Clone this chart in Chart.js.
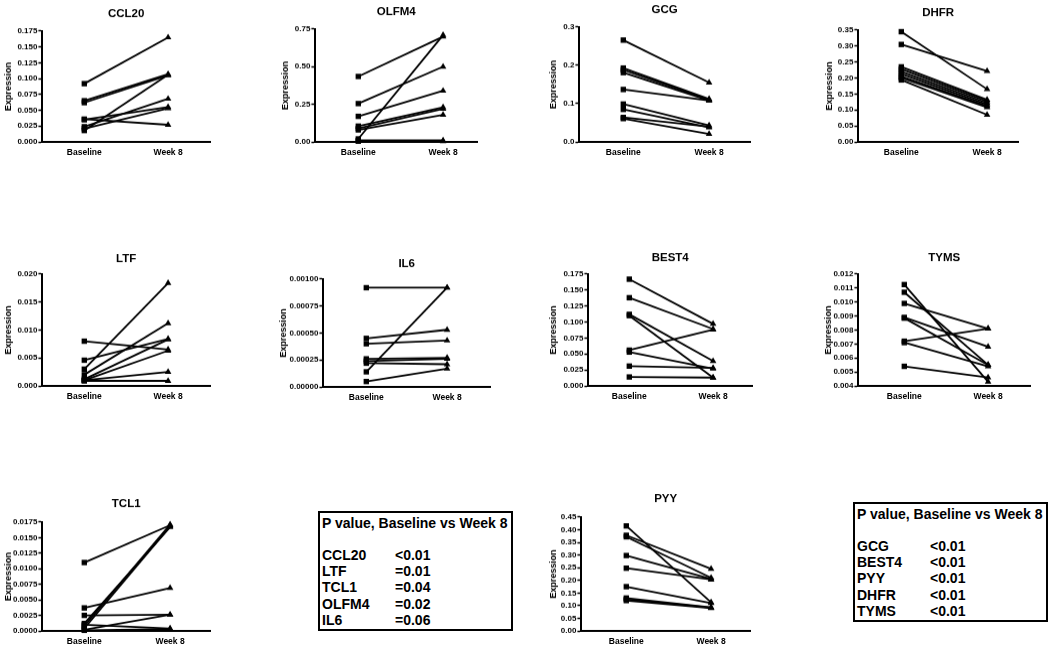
<!DOCTYPE html>
<html>
<head>
<meta charset="utf-8">
<script src="https://cdn.jsdelivr.net/npm/chart.js@4.4.0/dist/chart.umd.min.js"></script>
<style>
  body { margin: 0; width: 1050px; height: 646px; background: #fff; position: relative; overflow: hidden;
         font-family: Arial, "Liberation Sans", sans-serif; }
  .panel { position: absolute; }
  .pbox { position: absolute; border: 2px solid #000; box-sizing: border-box; color: #000;
          font-weight: bold; font-size: 14px; }
  .pbox span { position: absolute; line-height: 16px; white-space: nowrap; }
</style>
</head>
<body>
<script>
// x categories
const xLabels = ['Baseline', 'Week 8'];

// per-subject values, baseline / week 8
const ccl20Base  = [0.092, 0.065, 0.062, 0.018, 0.036, 0.035, 0.024, 0.021];
const ccl20Week8 = [0.165, 0.107, 0.105, 0.106, 0.027, 0.055, 0.068, 0.053];

const olfm4Base  = [0.435, 0.255, 0.17, 0.02, 0.105, 0.09, 0.08, 0.01, 0.005];
const olfm4Week8 = [0.70, 0.50, 0.34, 0.71, 0.23, 0.22, 0.18, 0.01, 0.005];

const gcgBase  = [0.266, 0.193, 0.188, 0.181, 0.137, 0.099, 0.085, 0.064, 0.061];
const gcgWeek8 = [0.155, 0.112, 0.110, 0.108, 0.108, 0.043, 0.038, 0.040, 0.021];

const dhfrBase  = [0.345, 0.305, 0.235, 0.228, 0.220, 0.213, 0.205, 0.200, 0.194];
const dhfrWeek8 = [0.165, 0.222, 0.132, 0.127, 0.122, 0.117, 0.112, 0.108, 0.085];

const ltfBase  = [0.0080, 0.0046, 0.0030, 0.0020, 0.0012, 0.0010, 0.0010, 0.0009];
const ltfWeek8 = [0.0065, 0.0084, 0.0184, 0.0112, 0.0083, 0.0063, 0.0025, 0.0009];

const il6Base  = [0.00092, 0.00045, 0.00040, 0.00026, 0.00024, 0.00022, 0.00014, 0.00005];
const il6Week8 = [0.00092, 0.00053, 0.00043, 0.00027, 0.00026, 0.00021, 0.00092, 0.00017];

const best4Base  = [0.167, 0.138, 0.112, 0.110, 0.056, 0.053, 0.031, 0.014];
const best4Week8 = [0.097, 0.089, 0.039, 0.013, 0.088, 0.027, 0.028, 0.013];

const tymsBase  = [0.01125, 0.0107, 0.0099, 0.0089, 0.00885, 0.0072, 0.0071, 0.0054];
const tymsWeek8 = [0.0043, 0.0055, 0.0081, 0.0068, 0.0055, 0.0081, 0.0054, 0.0046];

const tcl1Base  = [0.0110, 0.0037, 0.0025, 0.0012, 0.0008, 0.0004, 0.0002, 0.0010, 0.0001];
const tcl1Week8 = [0.0170, 0.0069, 0.0026, 0.0167, 0.0171, 0.0168, 0.0026, 0.0004, 0.0003];

const pyyBase  = [0.415, 0.378, 0.372, 0.298, 0.248, 0.175, 0.130, 0.125, 0.120];
const pyyWeek8 = [0.113, 0.245, 0.210, 0.205, 0.203, 0.110, 0.093, 0.092, 0.090];

// p value tables
const tableTitle = 'P value, Baseline vs Week 8';
const genesA = ['CCL20', 'LTF', 'TCL1', 'OLFM4', 'IL6'];
const pvalsA = ['<0.01', '=0.01', '=0.04', '=0.02', '=0.06'];
const genesB = ['GCG', 'BEST4', 'PYY', 'DHFR', 'TYMS'];
const pvalsB = ['<0.01', '<0.01', '<0.01', '<0.01', '<0.01'];

// panel layout (chart area in page pixels)
const panels = [
  { title: 'CCL20', base: ccl20Base, week: ccl20Week8, yMin: 0, yMax: 0.175, step: 0.025, dec: 3,
    ax: 42, right: 210, top: 31, bottom: 142, bx: 84, wx: 168, ty: 14, ytx: 8 },
  { title: 'OLFM4', base: olfm4Base, week: olfm4Week8, yMin: 0, yMax: 0.75, step: 0.25, dec: 2,
    ax: 315, right: 477, top: 29, bottom: 142, bx: 358, wx: 443, ty: 12, ytx: 285 },
  { title: 'GCG', base: gcgBase, week: gcgWeek8, yMin: 0, yMax: 0.3, step: 0.1, dec: 1,
    ax: 579, right: 750, top: 27, bottom: 142, bx: 623, wx: 709, ty: 10, ytx: 553 },
  { title: 'DHFR', base: dhfrBase, week: dhfrWeek8, yMin: 0, yMax: 0.35, step: 0.05, dec: 2,
    ax: 858, right: 1018, top: 30, bottom: 142, bx: 901, wx: 987, ty: 13, ytx: 829 },
  { title: 'LTF', base: ltfBase, week: ltfWeek8, yMin: 0, yMax: 0.020, step: 0.005, dec: 3,
    ax: 42, right: 210, top: 274, bottom: 386, bx: 84, wx: 168, ty: 259, ytx: 8 },
  { title: 'IL6', base: il6Base, week: il6Week8, yMin: 0, yMax: 0.001, step: 0.00025, dec: 5,
    ax: 323, right: 490, top: 279, bottom: 387, bx: 366, wx: 447, ty: 264, ytx: 283 },
  { title: 'BEST4', base: best4Base, week: best4Week8, yMin: 0, yMax: 0.175, step: 0.025, dec: 3,
    ax: 588, right: 752, top: 274, bottom: 386, bx: 629, wx: 713, ty: 258, ytx: 553 },
  { title: 'TYMS', base: tymsBase, week: tymsWeek8, yMin: 0.004, yMax: 0.012, step: 0.001, dec: 3,
    ax: 858, right: 1030, top: 274, bottom: 386, bx: 904, wx: 988, ty: 258, ytx: 828 },
  { title: 'TCL1', base: tcl1Base, week: tcl1Week8, yMin: 0, yMax: 0.0175, step: 0.0025, dec: 4,
    ax: 42, right: 210, top: 522, bottom: 631, bx: 84, wx: 170, ty: 504, ytx: 8 },
  { title: 'PYY', base: pyyBase, week: pyyWeek8, yMin: 0, yMax: 0.45, step: 0.05, dec: 2,
    ax: 581, right: 750, top: 517, bottom: 631, bx: 626, wx: 711, ty: 499, ytx: 553 }
];

const FONT = 'Arial, "Liberation Sans", sans-serif';
const titleSize = 11.5, titleLH = titleSize * 1.2;
const yTitleSize = 9, yTitleLH = yTitleSize * 1.2;
const xAxisH = 15, padRight = 6;

panels.forEach(p => {
  const left = p.ytx - yTitleLH / 2;
  const topPx = p.ty - titleLH / 2;
  const yw = p.ax - left;
  const w = p.right + padRight - left;
  const h = p.bottom + xAxisH - topPx;
  const span = p.wx - p.bx;
  const xMin = -(p.bx - p.ax) / span;
  const xMax = 1 + (p.right - p.wx) / span;

  const div = document.createElement('div');
  div.className = 'panel';
  div.style.left = left + 'px';
  div.style.top = topPx + 'px';
  const cv = document.createElement('canvas');
  cv.width = w; cv.height = h;
  cv.style.width = w + 'px'; cv.style.height = h + 'px';
  div.appendChild(cv);
  document.body.appendChild(div);

  const datasets = p.base.map((b, i) => ({
    data: [{ x: 0, y: b }, { x: 1, y: p.week[i] }],
    borderColor: '#000',
    borderWidth: 1.8,
    pointStyle: ['rect', 'triangle'],
    pointRadius: 3.8,
    pointBackgroundColor: '#000',
    pointBorderColor: '#000',
    pointBorderWidth: 0,
    clip: false
  }));

  new Chart(cv, {
    type: 'line',
    data: { datasets },
    options: {
      responsive: false,
      animation: false,
      devicePixelRatio: 1,
      layout: { padding: { left: 0, right: padRight, top: 0, bottom: 0 } },
      plugins: {
        legend: { display: false },
        tooltip: { enabled: false },
        title: {
          display: true, text: p.title, color: '#000', fullSize: false,
          font: { family: FONT, size: titleSize, weight: 'bold', lineHeight: 1.2 },
          padding: { top: 0, bottom: (p.top - p.ty) - titleLH / 2 }
        }
      },
      scales: {
        x: {
          type: 'linear', min: xMin, max: xMax,
          afterBuildTicks: s => { s.ticks = [{ value: 0 }, { value: 1 }]; },
          afterFit: s => { s.height = xAxisH; },
          grid: { display: false, drawTicks: false, tickLength: 0 },
          border: { display: true, color: '#000', width: 2 },
          ticks: {
            color: '#000', padding: 6, maxRotation: 0, autoSkip: false,
            font: { family: FONT, size: 8.5, weight: 'bold' },
            callback: v => xLabels[v]
          }
        },
        y: {
          type: 'linear', min: p.yMin, max: p.yMax,
          afterFit: s => { s.width = yw; },
          grid: { display: true, drawOnChartArea: false, drawTicks: true, tickLength: 4,
                  tickColor: '#000', tickWidth: 1.5 },
          border: { display: true, color: '#000', width: 2 },
          ticks: {
            color: '#000', padding: 1, stepSize: p.step, autoSkip: false,
            font: { family: FONT, size: 8, weight: 'bold' },
            callback: v => Number(v).toFixed(p.dec)
          },
          title: {
            display: true, text: 'Expression', color: '#000', padding: 0,
            font: { family: FONT, size: yTitleSize, weight: 'bold', lineHeight: 1.2 }
          }
        }
      }
    }
  });
});

// p value boxes
function makeBox(x, y, w, h, titleY, rowY, labelX, valX, genes, pvals) {
  const box = document.createElement('div');
  box.className = 'pbox';
  box.style.left = x + 'px'; box.style.top = y + 'px';
  box.style.width = w + 'px'; box.style.height = h + 'px';
  const t = document.createElement('span');
  t.textContent = tableTitle;
  t.style.left = (labelX - x - 2) + 'px';
  t.style.top = (titleY - y - 2 - 8) + 'px';
  box.appendChild(t);
  genes.forEach((g, i) => {
    const a = document.createElement('span');
    a.textContent = g;
    a.style.left = (labelX - x - 2) + 'px';
    a.style.top = (rowY + i * 16.2 - y - 2 - 8) + 'px';
    const b = document.createElement('span');
    b.textContent = pvals[i];
    b.style.left = (valX - x - 2) + 'px';
    b.style.top = a.style.top;
    box.appendChild(a); box.appendChild(b);
  });
  document.body.appendChild(box);
}
makeBox(318, 511, 195, 120, 523, 555, 322, 395, genesA, pvalsA);
makeBox(853, 502, 195, 120, 514, 546, 857, 930, genesB, pvalsB);
</script>
</body>
</html>
